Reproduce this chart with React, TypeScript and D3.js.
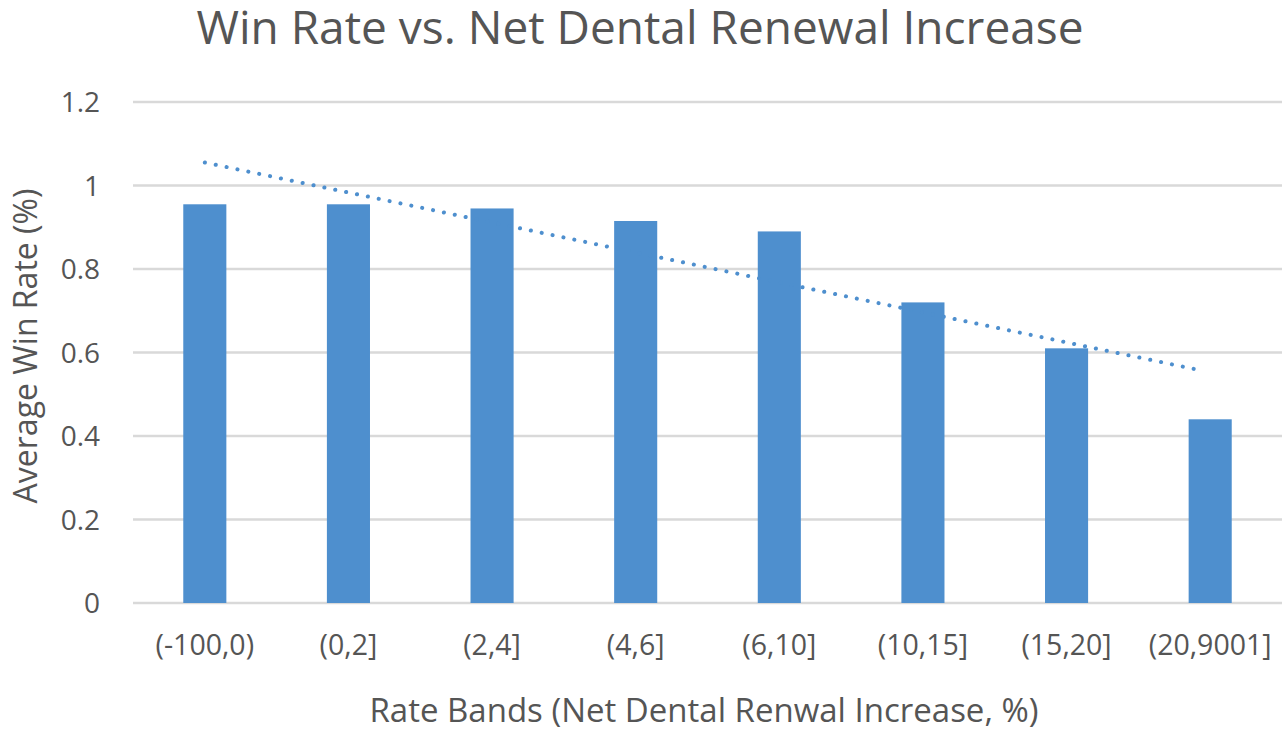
import { useEffect, useRef } from "react";
import * as d3 from "d3";

const bands = ["(-100,0)", "(0,2]", "(2,4]", "(4,6]", "(6,10]", "(10,15]", "(15,20]", "(20,9001]"];
const winRates = [0.955, 0.955, 0.945, 0.915, 0.89, 0.72, 0.61, 0.44];
const yTicks = [0, 0.2, 0.4, 0.6, 0.8, 1, 1.2];

const W = 1282;
const H = 732;
const margin = { top: 102, right: 0, bottom: 129, left: 133 };
const font = "'Open Sans', sans-serif";
const textColor = "#555555";
const barColor = "#4e8fce";

export default function App() {
  const ref = useRef<SVGSVGElement>(null);

  useEffect(() => {
    const svg = d3.select(ref.current);
    svg.selectAll("*").remove();

    const x = d3
      .scaleBand()
      .domain(bands)
      .range([margin.left, W - margin.right])
      .paddingInner(0.7)
      .paddingOuter(0.35);

    const y = d3
      .scaleLinear()
      .domain([0, 1.2])
      .range([H - margin.bottom, margin.top]);

    // grid
    svg
      .append("g")
      .selectAll("line")
      .data(yTicks)
      .enter()
      .append("line")
      .attr("x1", margin.left)
      .attr("x2", W - margin.right)
      .attr("y1", (d) => y(d))
      .attr("y2", (d) => y(d))
      .attr("stroke", "#d9d9d9")
      .attr("stroke-width", 2.5);

    // y labels
    svg
      .append("g")
      .selectAll("text")
      .data(yTicks)
      .enter()
      .append("text")
      .attr("x", 100)
      .attr("y", (d) => y(d))
      .attr("dy", "0.36em")
      .attr("text-anchor", "end")
      .attr("font-family", font)
      .attr("font-size", 28)
      .attr("fill", textColor)
      .text((d) => String(d));

    // bars
    svg
      .append("g")
      .selectAll("rect")
      .data(winRates)
      .enter()
      .append("rect")
      .attr("x", (_, i) => x(bands[i])!)
      .attr("width", x.bandwidth())
      .attr("y", (d) => y(d))
      .attr("height", (d) => y(0) - y(d))
      .attr("fill", barColor);

    // linear trendline (least squares over category index)
    const xs = winRates.map((_, i) => i + 1);
    const mx = d3.mean(xs)!;
    const my = d3.mean(winRates)!;
    const slope =
      d3.sum(xs, (v, i) => (v - mx) * (winRates[i] - my)) / d3.sum(xs, (v) => (v - mx) ** 2);
    const icpt = my - slope * mx;
    const cx = (i: number) => x(bands[i])! + x.bandwidth() / 2;
    svg
      .append("line")
      .attr("x1", cx(0))
      .attr("x2", cx(bands.length - 1) - 10)
      .attr("y1", y(icpt + slope * 1))
      .attr("y2", y(icpt + slope * (bands.length - 10 / x.step())))
      .attr("stroke", "#4e8fce")
      .attr("stroke-width", 4)
      .attr("stroke-linecap", "round")
      .attr("stroke-dasharray", "0.1 11");

    // x labels
    svg
      .append("g")
      .selectAll("text")
      .data(bands)
      .enter()
      .append("text")
      .attr("x", (d) => x(d)! + x.bandwidth() / 2)
      .attr("y", 655)
      .attr("text-anchor", "middle")
      .attr("font-family", font)
      .attr("font-size", 28.5)
      .attr("fill", textColor)
      .text((d) => d);

    svg
      .append("text")
      .attr("x", 704)
      .attr("y", 722)
      .attr("text-anchor", "middle")
      .attr("font-family", font)
      .attr("font-size", 33)
      .attr("fill", textColor)
      .text("Rate Bands (Net Dental Renwal Increase, %)");

    svg
      .append("text")
      .attr("transform", `translate(37,346) rotate(-90)`)
      .attr("text-anchor", "middle")
      .attr("font-family", font)
      .attr("font-size", 32)
      .attr("fill", textColor)
      .text("Average Win Rate (%)");

    svg
      .append("text")
      .attr("x", 640)
      .attr("y", 44)
      .attr("text-anchor", "middle")
      .attr("font-family", font)
      .attr("font-size", 46)
      .attr("fill", textColor)
      .text("Win Rate vs. Net Dental Renewal Increase");
  }, []);

  return (
    <svg
      ref={ref}
      width={W}
      height={H}
      style={{ position: "absolute", left: 0, top: 0, background: "#fff" }}
    />
  );
}
